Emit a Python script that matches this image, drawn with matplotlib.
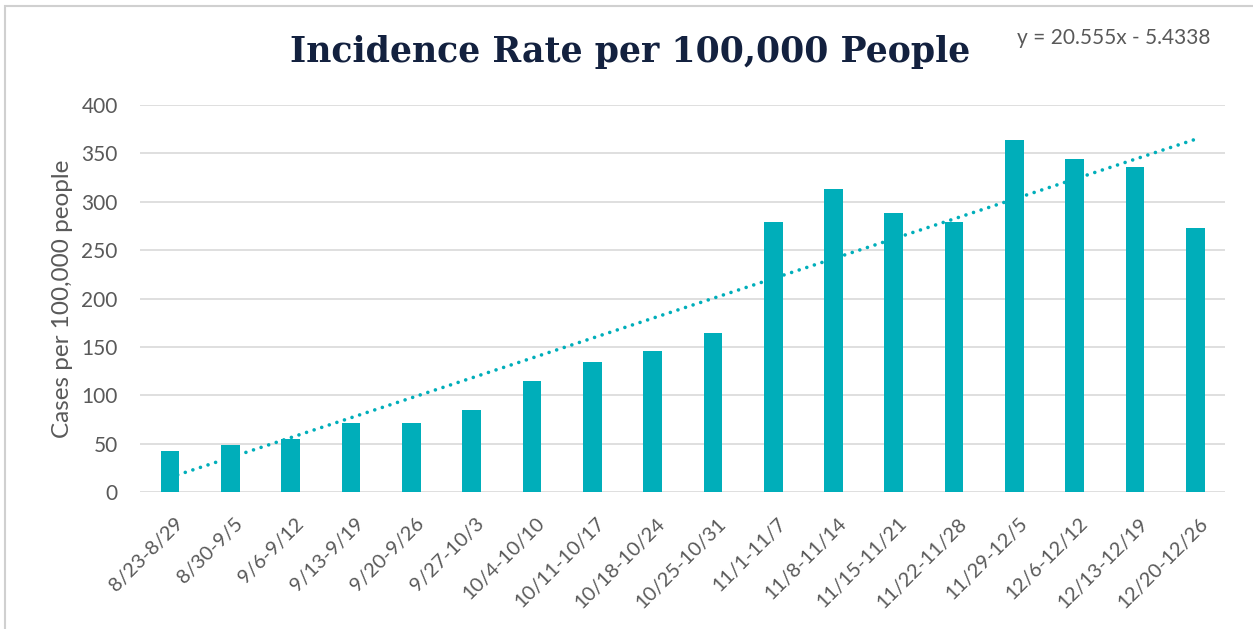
import numpy as np
import matplotlib.pyplot as plt
from matplotlib.patches import Rectangle
from matplotlib.transforms import ScaledTranslation

# ---- Datos ----
weeks = ["8/23-8/29", "8/30-9/5", "9/6-9/12", "9/13-9/19", "9/20-9/26",
         "9/27-10/3", "10/4-10/10", "10/11-10/17", "10/18-10/24", "10/25-10/31",
         "11/1-11/7", "11/8-11/14", "11/15-11/21", "11/22-11/28", "11/29-12/5",
         "12/6-12/12", "12/13-12/19", "12/20-12/26"]
rates = [42, 49, 55, 71, 71, 85, 115, 134, 146, 164,
         279, 313, 288, 279, 364, 344, 336, 273]
trend_slope = 20.555
trend_intercept = -5.4338
y_ticks = [0, 50, 100, 150, 200, 250, 300, 350, 400]

bar_color = "#00AEBA"
text_color = "#595959"
grid_color = "#D9D9D9"

# ---- Graficar ----
fig = plt.figure(figsize=(12.53, 6.29), dpi=100)
ax = fig.add_axes([0.1117, 0.2178, 0.8663, 0.6152])

x = np.arange(1, len(rates) + 1)
ax.bar(x, rates, width=0.31, color=bar_color, zorder=3)

# linea de tendencia (Excel)
x_tr = np.array([x[0], x[-1]])
ax.plot(x_tr, trend_slope * x_tr + trend_intercept, color=bar_color,
        linewidth=2.6, linestyle=(0, (0.01, 2.2)), dash_capstyle="round", zorder=4)

ax.set_xlim(0.5, len(rates) + 0.5)
ax.set_ylim(0, 400)
ax.set_yticks(y_ticks)
ax.yaxis.grid(True, color=grid_color, linewidth=1.2, zorder=0)
for s in ax.spines.values():
    s.set_visible(False)
ax.tick_params(axis="both", length=0, colors=text_color)
ax.tick_params(axis="y", labelsize=15, pad=16)
ax.set_xticks(x)
ax.set_xticklabels(weeks, rotation=45, ha="right", rotation_mode="anchor",
                   fontsize=14.5, family="Lato")
ax.tick_params(axis="x", pad=12)
shift = ScaledTranslation(0.04, -0.06, fig.dpi_scale_trans)
for lab in ax.get_xticklabels():
    lab.set_transform(lab.get_transform() + shift)
for lab in ax.get_yticklabels():
    lab.set_family("Lato")

ax.set_ylabel("Cases per 100,000 people", fontsize=17.5, color=text_color,
              family="Lato", labelpad=6)

fig.text(0.503, 0.918, "Incidence Rate per 100,000 People", ha="center", va="center",
         fontsize=25, fontweight="bold", family="DejaVu Serif", color="#13213F")
fig.text(0.812, 0.94, "y = 20.555x - 5.4338", ha="left", va="center",
         fontsize=15, family="Lato", color=text_color)

# marco del grafico
fig.patches.append(Rectangle((0.004, -0.01), 1.1, 1.0, transform=fig.transFigure,
                             fill=False, edgecolor="#D0D0D0", linewidth=1.5))

fig.savefig("out.png", dpi=100)
